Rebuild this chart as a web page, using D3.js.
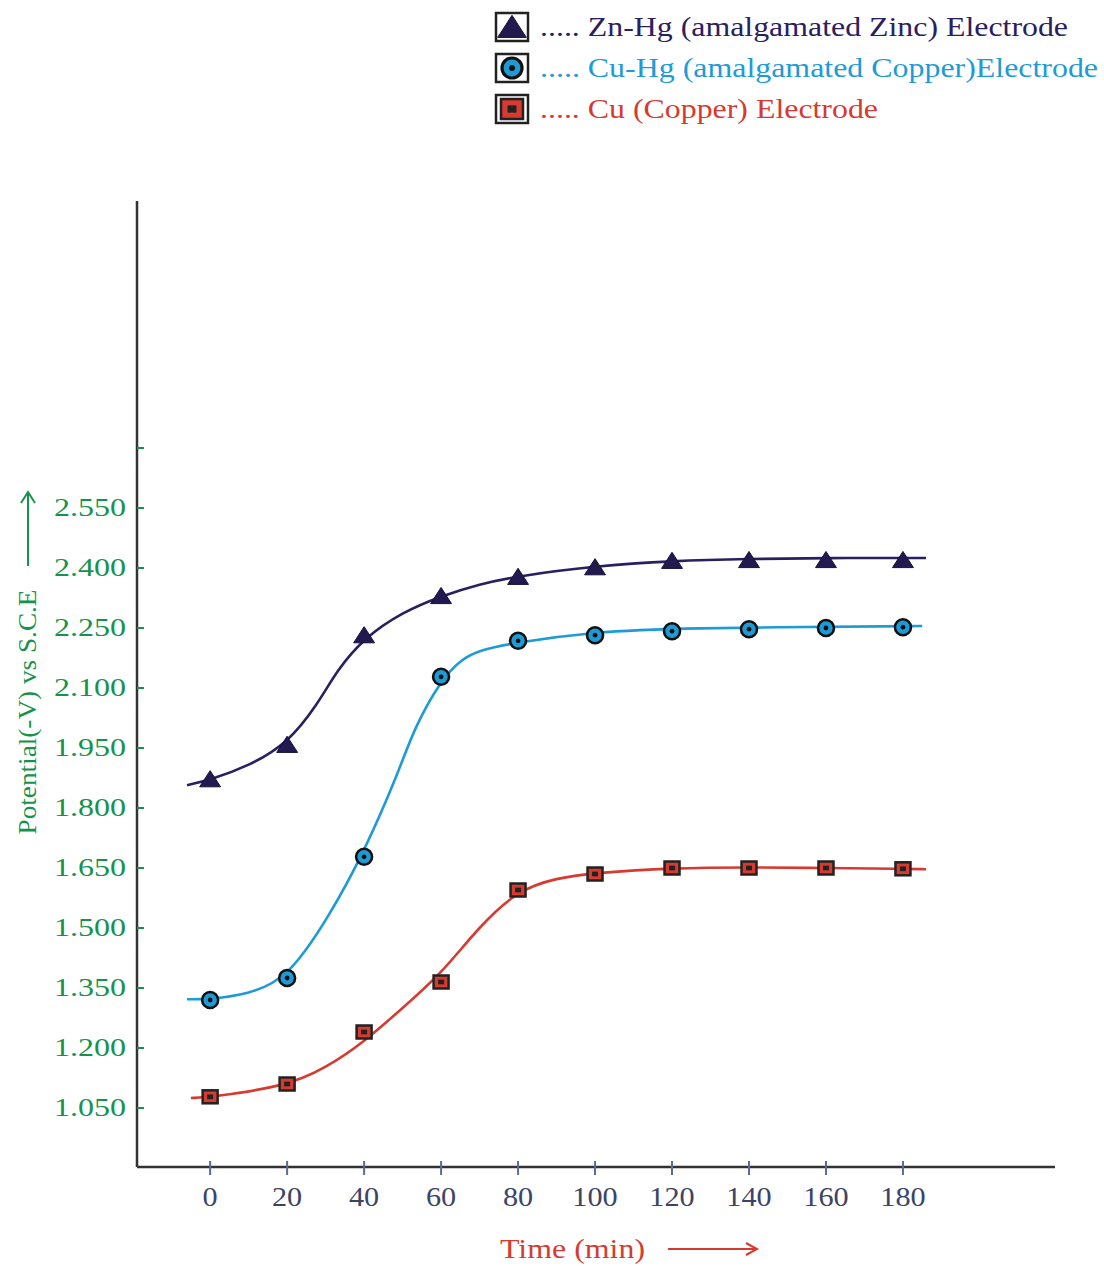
<!DOCTYPE html>
<html>
<head>
<meta charset="utf-8">
<script src="https://cdn.jsdelivr.net/npm/d3@7"></script>
<style>
  body { margin: 0; background: #fff; }
  text { font-family: "Times New Roman", "Liberation Serif", Tinos, serif; }
</style>
</head>
<body>
<div id="chart"></div>
<script>
const W = 1104, H = 1266;
const xTicks = [0, 20, 40, 60, 80, 100, 120, 140, 160, 180];
const yTicks = [1.050, 1.200, 1.350, 1.500, 1.650, 1.800, 1.950, 2.100, 2.250, 2.400, 2.550, 2.700];
const yLabelTicks = [1.050, 1.200, 1.350, 1.500, 1.650, 1.800, 1.950, 2.100, 2.250, 2.400, 2.550];

// measured points
const time = [0, 20, 40, 60, 80, 100, 120, 140, 160, 180];
const znHg = [1.872, 1.958, 2.232, 2.330, 2.378, 2.402, 2.418, 2.420, 2.420, 2.420];
const cuHg = [1.320, 1.375, 1.678, 2.128, 2.218, 2.232, 2.242, 2.247, 2.250, 2.252];
const cu   = [1.078, 1.110, 1.240, 1.365, 1.595, 1.635, 1.650, 1.650, 1.650, 1.648];

// fitted curves
const znFitT = [-6, 0, 10, 20, 28, 33, 40, 50, 60, 70, 80, 100, 120, 140, 160, 186];
const znFitV = [1.857, 1.870, 1.905, 1.960, 2.060, 2.145, 2.225, 2.290, 2.330, 2.360, 2.380, 2.405, 2.418, 2.423, 2.425, 2.425];
const cuHgFitT = [-6, 0, 10, 20, 31, 40, 49, 53, 60, 65, 70, 80, 100, 120, 185];
const cuHgFitV = [1.322, 1.322, 1.335, 1.372, 1.530, 1.690, 1.890, 2.000, 2.120, 2.170, 2.195, 2.215, 2.240, 2.250, 2.255];
const cuFitT = [-5, 0, 20, 30, 40, 50, 60, 70, 80, 90, 100, 120, 140, 160, 180, 186];
const cuFitV = [1.075, 1.077, 1.105, 1.150, 1.215, 1.300, 1.385, 1.505, 1.595, 1.625, 1.638, 1.650, 1.652, 1.650, 1.648, 1.647];

const legendLabels = ["..... Zn-Hg (amalgamated Zinc) Electrode",
                      "..... Cu-Hg (amalgamated Copper)Electrode",
                      "..... Cu (Copper) Electrode"];
const colZn = "#2a2060", colCuHg = "#1e9bd7", colCu = "#d63a30";
const colGreen = "#17924a", colAxis = "#333";

const svg = d3.select("#chart").append("svg").attr("width", W).attr("height", H);

const x = d3.scaleLinear().domain([-19, 219.5]).range([137, 1055]);
const y = d3.scaleLinear().domain([0.9025, 3.3175]).range([1167, 201]);

// axes lines
svg.append("line").attr("x1", x(-19)).attr("x2", x(-19)).attr("y1", y(3.3175)).attr("y2", y(0.9025))
  .attr("stroke", colAxis).attr("stroke-width", 2.5);
svg.append("line").attr("x1", x(-19)).attr("x2", x(219.5)).attr("y1", y(0.9025)).attr("y2", y(0.9025))
  .attr("stroke", colAxis).attr("stroke-width", 2.5);

// x ticks
const xg = svg.append("g");
xg.selectAll("line").data(xTicks).join("line")
  .attr("x1", d => x(d)).attr("x2", d => x(d))
  .attr("y1", y(0.9025) - 6).attr("y2", y(0.9025) + 8)
  .attr("stroke", "#5a6a9a").attr("stroke-width", 2);
xg.selectAll("text").data(xTicks).join("text")
  .attr("transform", d => "translate(" + x(d) + "," + 1206 + ") scale(1.12,1)")
  .attr("text-anchor", "middle").attr("font-size", 27).attr("fill", "#3c4466")
  .text(d => d);

// y ticks
const yg = svg.append("g");
yg.selectAll("line").data(yTicks).join("line")
  .attr("x1", x(-19)).attr("x2", x(-19) + 7)
  .attr("y1", d => y(d)).attr("y2", d => y(d))
  .attr("stroke", colGreen).attr("stroke-width", 2);
yg.selectAll("text").data(yLabelTicks).join("text")
  .attr("x", 126).attr("y", d => y(d) + 8)
  .attr("text-anchor", "end").attr("font-size", 25).attr("fill", colGreen)
  .attr("textLength", 72).attr("lengthAdjust", "spacingAndGlyphs")
  .text(d => d3.format(".3f")(d));

// axis titles
svg.append("text").attr("transform", "translate(36,712) rotate(-90)")
  .attr("text-anchor", "middle").attr("font-size", 26).attr("fill", colGreen)
  .attr("textLength", 245).attr("lengthAdjust", "spacingAndGlyphs")
  .text("Potential(-V) vs S.C.E");
svg.append("line").attr("x1", 28).attr("x2", 28).attr("y1", 566).attr("y2", 494)
  .attr("stroke", colGreen).attr("stroke-width", 2);
svg.append("path").attr("d", "M21,503 L28,492 L35,503").attr("fill", "none")
  .attr("stroke", colGreen).attr("stroke-width", 2);

svg.append("text").attr("x", 500).attr("y", 1258).attr("font-size", 27).attr("fill", colCu)
  .attr("textLength", 145).attr("lengthAdjust", "spacingAndGlyphs").text("Time (min)");
svg.append("line").attr("x1", 668).attr("x2", 755).attr("y1", 1249).attr("y2", 1249)
  .attr("stroke", colCu).attr("stroke-width", 2);
svg.append("path").attr("d", "M746,1243 L757,1249 L746,1255").attr("fill", "none")
  .attr("stroke", colCu).attr("stroke-width", 2);

// curves
const line = d3.line().x(d => x(d[0])).y(d => y(d[1])).curve(d3.curveBasis);
function drawCurve(ts, vs, color) {
  svg.append("path").datum(d3.zip(ts, vs)).attr("d", line)
    .attr("fill", "none").attr("stroke", color).attr("stroke-width", 2.6);
}
drawCurve(znFitT, znFitV, colZn);
drawCurve(cuHgFitT, cuHgFitV, colCuHg);
drawCurve(cuFitT, cuFitV, colCu);

// markers
function triangle(g, cx, cy, s) {
  g.append("path").attr("d", "M" + cx + "," + (cy - s * 0.45) + " L" + (cx + s * 0.55) + "," + (cy + s * 0.4) +
    " L" + (cx - s * 0.55) + "," + (cy + s * 0.4) + "Z").attr("fill", "#221a4e").attr("stroke", "#150f38").attr("stroke-width", 1);
}
function circleMark(g, cx, cy, r) {
  g.append("circle").attr("cx", cx).attr("cy", cy).attr("r", r).attr("fill", colCuHg)
    .attr("stroke", "#111").attr("stroke-width", r * 0.32);
  g.append("circle").attr("cx", cx).attr("cy", cy).attr("r", r * 0.3).attr("fill", "#111");
}
function squareMark(g, cx, cy, w, h) {
  g.append("rect").attr("x", cx - w / 2).attr("y", cy - h / 2).attr("width", w).attr("height", h)
    .attr("fill", colCu).attr("stroke", "#222").attr("stroke-width", 2.5);
  g.append("rect").attr("x", cx - w * 0.2).attr("y", cy - h * 0.18).attr("width", w * 0.4).attr("height", h * 0.36)
    .attr("fill", "#222");
}
const mg = svg.append("g");
time.forEach((t, i) => {
  triangle(mg, x(t), y(znHg[i]), 19);
  circleMark(mg, x(t), y(cuHg[i]), 8);
  squareMark(mg, x(t), y(cu[i]), 15, 13);
});

// legend
const lg = svg.append("g");
const legColors = [colZn, colCuHg, colCu];
const legY = [27, 68, 109];
const legLen = [528, 558, 338];
legY.forEach((ly, i) => {
  lg.append("rect").attr("x", 496).attr("y", ly - 14).attr("width", 32).attr("height", 28)
    .attr("fill", "#fff").attr("stroke", "#222").attr("stroke-width", 2.5);
  if (i === 0) triangle(lg, 512, ly, 26);
  if (i === 1) circleMark(lg, 512, ly, 10);
  if (i === 2) squareMark(lg, 512, ly, 22, 20);
  lg.append("text").attr("x", 540).attr("y", ly + 9).attr("font-size", 28).attr("fill", legColors[i])
    .attr("textLength", legLen[i]).attr("lengthAdjust", "spacingAndGlyphs")
    .text(legendLabels[i]);
});
</script>
</body>
</html>
